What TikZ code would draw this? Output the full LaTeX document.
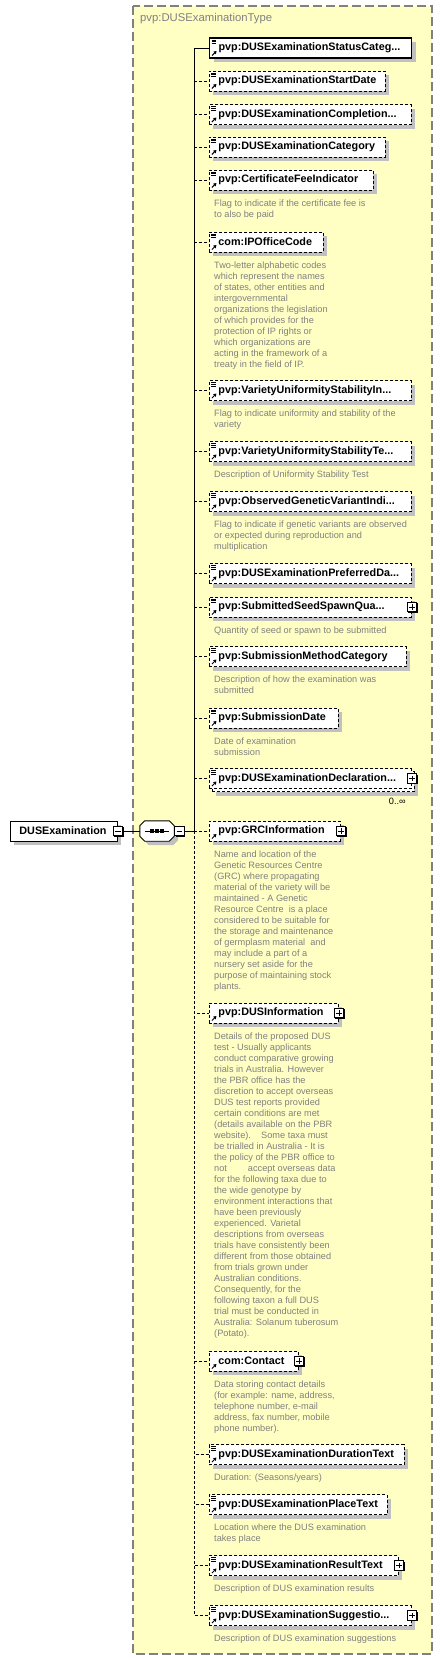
\documentclass[tikz,border=0pt]{standalone}
\usepackage{fontspec}
\setmainfont{Liberation Sans}
\definecolor{typeyellow}{RGB}{255,255,196}
\definecolor{typegray}{RGB}{128,128,128}
\definecolor{annogray}{RGB}{128,128,128}
\definecolor{shadowgray}{RGB}{192,192,192}
\usetikzlibrary{arrows.meta,positioning,calc,shadows}
\begin{document}
\begin{tikzpicture}[x=1pt, y=-1pt,
  every node/.style={font=\fontsize{10.8}{12}\selectfont\bfseries},
  conn/.style={line width=0.9pt},
  opt/.style={dash pattern=on 3pt off 2pt},
  elembase/.style={draw, fill=white, rectangle, line width=0.9pt, minimum height=20pt, inner xsep=9pt, inner ysep=0pt, anchor=west, align=left},
  elem/.style={elembase, general shadow={fill=shadowgray, shadow xshift=4pt, shadow yshift=-4pt}},
  multi/.style={elembase, general shadow={fill=shadowgray, shadow xshift=7pt, shadow yshift=-7pt},
    general shadow={draw=black, fill=white, line width=0.9pt, opt, shadow xshift=3pt, shadow yshift=-3pt}},
  leaf/.style={path picture={
    \draw[solid, line width=0.6pt] ([xshift=2pt,yshift=-1.8pt]path picture bounding box.north west) -- ++(4.5pt,0pt)
      ([xshift=2pt,yshift=-3.6pt]path picture bounding box.north west) -- ++(4.5pt,0pt)
      ([xshift=2pt,yshift=-5.4pt]path picture bounding box.north west) -- ++(4.5pt,0pt);
    \draw[solid, line width=1pt, -{Triangle[length=2.8pt,width=3.4pt]}] ([xshift=2.5pt,yshift=2.5pt]path picture bounding box.south west) -- ++(4.5pt,4.5pt);}},
  cplx/.style={path picture={
    \draw[solid, line width=1pt, -{Triangle[length=2.8pt,width=3.4pt]}] ([xshift=2.5pt,yshift=2.5pt]path picture bounding box.south west) -- ++(4.5pt,4.5pt);}},
  expander/.style={draw, solid, fill=white, rectangle, minimum size=9.5pt, inner sep=0pt, line width=0.8pt,
    general shadow={fill=black, shadow xshift=0.9pt, shadow yshift=-0.9pt}},
  minus/.style={path picture={\draw[line width=0.8pt] ([xshift=2pt]path picture bounding box.west) -- ([xshift=-2pt]path picture bounding box.east);}},
  plus/.style={path picture={\draw[line width=0.8pt] ([xshift=2pt]path picture bounding box.west) -- ([xshift=-2pt]path picture bounding box.east)
    ([yshift=-2pt]path picture bounding box.north) -- ([yshift=2pt]path picture bounding box.south);}},
  seqbox/.style={rectangle, minimum width=34pt, minimum height=20pt, inner sep=0pt},
  octagon/.style={line width=0.9pt},
  anno/.style={font=\fontsize{9.2}{11}\selectfont, text=annogray, inner sep=0pt, align=left},
  mult/.style={font=\fontsize{9.2}{11}\selectfont, inner sep=0pt},
  typebox/.style={fill=typeyellow, draw=typegray, line width=1.2pt, dash pattern=on 9pt off 4pt},
  typename/.style={font=\fontsize{11.3}{13}\selectfont, text=typegray, inner sep=0pt, anchor=west}]
\useasboundingbox (0,0) rectangle (442,1660);

% complex type container
\draw[typebox] (133,6) rectangle (432,1654);
\node[typename] (typetitle) at (140,19) {pvp:DUSExaminationType};

% root element and sequence
\node[elem, text width=89pt] (root) at (10,831) {DUSExamination};
\node[expander, minus] (root-x) at (root.east) {};
\node[seqbox] (seq) at (157,831) {};
\fill[shadowgray, transform canvas={shift={(4pt,-4pt)}}] ($(seq.north west)+(5,0)$) -- ($(seq.north east)+(-5,0)$) -- ($(seq.north east)+(0,5)$)
  -- ($(seq.south east)+(0,-5)$) -- ($(seq.south east)+(-5,0)$) -- ($(seq.south west)+(5,0)$) -- ($(seq.south west)+(0,-5)$) -- ($(seq.north west)+(0,5)$) -- cycle;
\draw[octagon, fill=white] ($(seq.north west)+(5,0)$) -- ($(seq.north east)+(-5,0)$) -- ($(seq.north east)+(0,5)$)
  -- ($(seq.south east)+(0,-5)$) -- ($(seq.south east)+(-5,0)$) -- ($(seq.south west)+(5,0)$) -- ($(seq.south west)+(0,-5)$) -- ($(seq.north west)+(0,5)$) -- cycle;
\draw[line width=1pt] ($(seq.west)+(5,0)$) -- ($(seq.east)+(-5,0)$);
\foreach \d in {-5,0,5} \fill ($(seq.center)+(\d,0)+(-1.6,-1.6)$) rectangle ++(3.2pt,-3.2pt);
\node[expander, minus, right=0pt of seq] (seq-x) {};
\coordinate (fork) at (194,831);

% child elements
\node[elem, leaf, line width=1.1pt, text width=184pt] (statuscat) at (209,48) {pvp:DUSExaminationStatusCateg...};
\node[elem, leaf, opt, text width=158pt] (startdate) at (209,81) {pvp:DUSExaminationStartDate};
\node[elem, leaf, opt, text width=184pt] (compdate) at (209,114.5) {pvp:DUSExaminationCompletion...};
\node[elem, leaf, opt, text width=158pt] (examcat) at (209,147) {pvp:DUSExaminationCategory};
\node[elem, leaf, opt, text width=146pt] (certfee) at (209,180) {pvp:CertificateFeeIndicator};
\node[anno, below right=9pt and 5pt of certfee.south west] (certfee-a) {Flag to indicate if the certificate fee is\\to also be paid};
\node[elem, leaf, opt, text width=96pt] (ipoffice) at (209,242) {com:IPOfficeCode};
\node[anno, below right=9pt and 5pt of ipoffice.south west] (ipoffice-a) {Two-letter alphabetic codes\\which represent the names\\of states, other entities and\\intergovernmental\\organizations the legislation\\of which provides for the\\protection of IP rights or\\which organizations are\\acting in the framework of a\\treaty in the field of IP.};
\node[elem, leaf, opt, text width=184pt] (vusind) at (209,390.5) {pvp:VarietyUniformityStabilityIn...};
\node[anno, below right=9pt and 5pt of vusind.south west] (vusind-a) {Flag to indicate uniformity and stability of the\\variety};
\node[elem, leaf, opt, text width=184pt] (vustest) at (209,451.5) {pvp:VarietyUniformityStabilityTe...};
\node[anno, below right=9pt and 5pt of vustest.south west] (vustest-a) {Description of Uniformity Stability Test};
\node[elem, leaf, opt, text width=184pt] (genvar) at (209,501.5) {pvp:ObservedGeneticVariantIndi...};
\node[anno, below right=9pt and 5pt of genvar.south west] (genvar-a) {Flag to indicate if genetic variants are observed\\or expected during reproduction and\\multiplication};
\node[elem, leaf, opt, text width=184pt] (prefdate) at (209,573.5) {pvp:DUSExaminationPreferredDa...};
\node[elem, leaf, opt, text width=184pt] (seedspawn) at (209,607) {pvp:SubmittedSeedSpawnQua...};
\node[expander, plus] (seedspawn-x) at (seedspawn.east) {};
\node[anno, below right=9pt and 5pt of seedspawn.south west] (seedspawn-a) {Quantity of seed or spawn to be submitted};
\node[elem, leaf, opt, text width=179pt] (submethod) at (209,656.5) {pvp:SubmissionMethodCategory};
\node[anno, below right=9pt and 5pt of submethod.south west] (submethod-a) {Description of how the examination was\\submitted};
\node[elem, leaf, opt, text width=111pt] (subdate) at (209,718) {pvp:SubmissionDate};
\node[anno, below right=9pt and 5pt of subdate.south west] (subdate-a) {Date of examination\\submission};
\node[multi, leaf, opt, text width=184pt] (declaration) at (209,778.5) {pvp:DUSExaminationDeclaration...};
\node[expander, plus] (declaration-x) at (declaration.east) {};
\node[mult, below left=9pt and 6pt of declaration.south east] (declaration-m) {0..∞};
\node[elem, cplx, opt, text width=113pt] (grcinfo) at (209,831) {pvp:GRCInformation};
\node[expander, plus] (grcinfo-x) at (grcinfo.east) {};
\node[anno, below right=9pt and 5pt of grcinfo.south west] (grcinfo-a) {Name and location of the\\Genetic Resources Centre\\(GRC) where propagating\\material of the variety will be\\maintained - A Genetic\\Resource Centre\ \ is a place\\considered to be suitable for\\the storage and maintenance\\of germplasm material\ \ and\\may include a part of a\\nursery set aside for the\\purpose of maintaining stock\\plants.};
\node[elem, cplx, opt, text width=111pt] (dusinfo) at (209,1013) {pvp:DUSInformation};
\node[expander, plus] (dusinfo-x) at (dusinfo.east) {};
\node[anno, below right=9pt and 5pt of dusinfo.south west] (dusinfo-a) {Details of the proposed DUS\\test - Usually applicants\\conduct comparative growing\\trials in Australia. However\\the PBR office has the\\discretion to accept overseas\\DUS test reports provided\\certain conditions are met\\(details available on the PBR\\website).\ \ \ \ Some taxa must\\be trialled in Australia - It is\\the policy of the PBR office to\\not\hspace{21pt}accept overseas data\\for the following taxa due to\\the wide genotype by\\environment interactions that\\have been previously\\experienced. Varietal\\descriptions from overseas\\trials have consistently been\\different from those obtained\\from trials grown under\\Australian conditions.\\Consequently, for the\\following taxon a full DUS\\trial must be conducted in\\Australia: Solanum tuberosum\\(Potato).};
\node[elem, cplx, opt, text width=71pt] (contact) at (209,1361) {com:Contact};
\node[expander, plus] (contact-x) at (contact.east) {};
\node[anno, below right=9pt and 5pt of contact.south west] (contact-a) {Data storing contact details\\(for example: name, address,\\telephone number, e-mail\\address, fax number, mobile\\phone number).};
\node[elem, leaf, opt, text width=177pt] (duration) at (209,1454.5) {pvp:DUSExaminationDurationText};
\node[anno, below right=9pt and 5pt of duration.south west] (duration-a) {Duration: (Seasons/years)};
\node[elem, leaf, opt, text width=160pt] (place) at (209,1504.5) {pvp:DUSExaminationPlaceText};
\node[anno, below right=9pt and 5pt of place.south west] (place-a) {Location where the DUS examination\\takes place};
\node[elem, leaf, opt, text width=171pt] (result) at (209,1565.5) {pvp:DUSExaminationResultText};
\node[expander, plus] (result-x) at (result.east) {};
\node[anno, below right=9pt and 5pt of result.south west] (result-a) {Description of DUS examination results};
\node[elem, leaf, opt, text width=184pt] (suggestion) at (209,1615.5) {pvp:DUSExaminationSuggestio...};
\node[expander, plus] (suggestion-x) at (suggestion.east) {};
\node[anno, below right=9pt and 5pt of suggestion.south west] (suggestion-a) {Description of DUS examination suggestions};

% connectors
\draw[conn] (root-x) -- (seq);
\draw[conn] (seq-x) -- (fork);
\draw[conn] (fork) |- (statuscat.west);
\draw[conn, opt] (fork |- startdate.west) -- (startdate.west) (fork |- compdate.west) -- (compdate.west)
  (fork |- examcat.west) -- (examcat.west) (fork |- certfee.west) -- (certfee.west)
  (fork |- ipoffice.west) -- (ipoffice.west) (fork |- vusind.west) -- (vusind.west)
  (fork |- vustest.west) -- (vustest.west) (fork |- genvar.west) -- (genvar.west)
  (fork |- prefdate.west) -- (prefdate.west) (fork |- seedspawn.west) -- (seedspawn.west)
  (fork |- submethod.west) -- (submethod.west) (fork |- subdate.west) -- (subdate.west)
  (fork |- declaration.west) -- (declaration.west);
\draw[conn, opt] (fork) -- (grcinfo.west) (fork) |- (dusinfo.west) (fork) |- (contact.west)
  (fork) |- (duration.west) (fork) |- (place.west) (fork) |- (result.west) (fork) |- (suggestion.west);
\end{tikzpicture}
\end{document}
